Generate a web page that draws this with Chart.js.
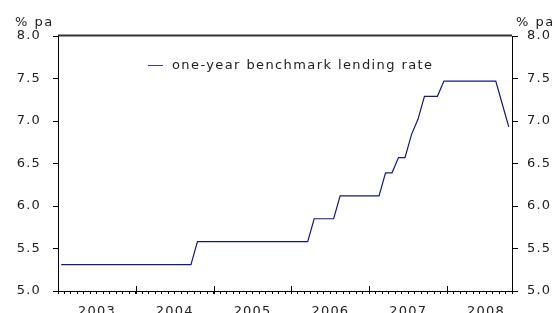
<!DOCTYPE html>
<html>
<head>
<meta charset="utf-8">
<script src="https://cdn.jsdelivr.net/npm/chart.js@4.4.1/dist/chart.umd.min.js"></script>
<style>
    html, body { margin: 0; padding: 0; background: #fff; }
    #wrap { position: relative; width: 555px; height: 313px; font-family: 'DejaVu Sans', Verdana, sans-serif; color: #222; }
    #chart { position: absolute; left: 0; top: 0; }
    .unit { position: absolute; top: 14px; font-size: 13px; line-height: 16px; letter-spacing: 1.5px; }
    #legend { position: absolute; left: 148px; top: 57px; font-size: 13px; line-height: 16px; letter-spacing: 1.4px; display: flex; align-items: center; }
    #legend .swatch { width: 15px; height: 0; border-top: 1px solid #3a3aa0; margin-right: 9px; }
</style>
</head>
<body>
<div id="wrap">
    <canvas id="chart" width="555" height="313"></canvas>
    <div class="unit" style="left:15px">% pa</div>
    <div class="unit" style="left:516px">% pa</div>
    <div id="legend"><span class="swatch"></span><span id="legendText"></span></div>
</div>
<script>
// monthly data, Jan 2003 .. Oct 2008
const seriesLabel = 'one-year benchmark lending rate';
const yearLabels = ['2003', '2004', '2005', '2006', '2007', '2008'];
const rates = [
    // 2003
    5.31, 5.31, 5.31, 5.31, 5.31, 5.31, 5.31, 5.31, 5.31, 5.31, 5.31, 5.31,
    // 2004
    5.31, 5.31, 5.31, 5.31, 5.31, 5.31, 5.31, 5.31, 5.31, 5.58, 5.58, 5.58,
    // 2005
    5.58, 5.58, 5.58, 5.58, 5.58, 5.58, 5.58, 5.58, 5.58, 5.58, 5.58, 5.58,
    // 2006
    5.58, 5.58, 5.58, 5.85, 5.85, 5.85, 5.85, 6.12, 6.12, 6.12, 6.12, 6.12,
    // 2007
    6.12, 6.12, 6.39, 6.39, 6.57, 6.57, 6.84, 7.02, 7.29, 7.29, 7.29, 7.47,
    // 2008
    7.47, 7.47, 7.47, 7.47, 7.47, 7.47, 7.47, 7.47, 7.20, 6.93,
];
const yTicks = [5.0, 5.5, 6.0, 6.5, 7.0, 7.5, 8.0];

const LINE_COLOR = '#161689';
const TEXT_COLOR = '#222';
const FONT = { family: "'DejaVu Sans', Verdana, sans-serif", size: 13 };
const LETTER_SPACING = '1.2px';
const MONTHS = 70;

document.getElementById('legendText').textContent = seriesLabel;

// the reference type is wider than DejaVu, so space the canvas text out a bit
const spacingPlugin = {
    id: 'spacing',
    beforeLayout(chart) { chart.ctx.letterSpacing = LETTER_SPACING; },
    beforeDraw(chart) { chart.ctx.letterSpacing = LETTER_SPACING; },
};

// top frame line and year ticks crossing the x axis
const framePlugin = {
    id: 'frame',
    afterDraw(chart) {
        const { ctx, chartArea } = chart;
        const x = chart.scales.x;
        ctx.save();
        ctx.strokeStyle = '#333';
        ctx.lineWidth = 2;
        ctx.beginPath();
        ctx.moveTo(chartArea.left, chartArea.top - 0.5);
        ctx.lineTo(chartArea.right, chartArea.top - 0.5);
        ctx.stroke();

        ctx.strokeStyle = '#000';
        ctx.lineWidth = 1;
        ctx.beginPath();
        for (let m = 12; m < MONTHS; m += 12) {
            const px = Math.round(x.getPixelForValue(m)) + 0.5;
            ctx.moveTo(px, chartArea.bottom - 5);
            ctx.lineTo(px, chartArea.bottom + 3);
        }
        ctx.stroke();
        ctx.restore();
    },
};

const yAxis = (position, width, tickLen, pad) => ({
    position,
    min: 5,
    max: 8,
    afterBuildTicks: (scale) => { scale.ticks = yTicks.map((value) => ({ value })); },
    ticks: { color: TEXT_COLOR, font: FONT, padding: pad, callback: (v) => Number(v).toFixed(1) },
    grid: { drawOnChartArea: false, tickLength: tickLen, color: '#000' },
    border: { color: '#000' },
    afterFit: (scale) => { scale.width = width; },
});

new Chart(document.getElementById('chart'), {
    type: 'line',
    data: {
        datasets: [{
            label: seriesLabel,
            data: rates.map((v, i) => ({ x: i + 0.5, y: v })),
            borderColor: LINE_COLOR,
            borderWidth: 1.2,
            pointRadius: 0,
            tension: 0,
            yAxisID: 'y',
        }],
    },
    options: {
        responsive: false,
        animation: false,
        layout: { padding: { top: 36 } },
        plugins: { legend: { display: false }, tooltip: { enabled: false } },
        scales: {
            x: {
                type: 'linear',
                min: 0,
                max: MONTHS,
                afterBuildTicks: (scale) => {
                    scale.ticks = Array.from({ length: MONTHS + 1 }, (_, i) => ({ value: i }));
                },
                ticks: {
                    autoSkip: false,
                    maxRotation: 0,
                    padding: 10,
                    color: TEXT_COLOR,
                    font: FONT,
                    callback: (v) => (v % 12 === 6 ? yearLabels[(v - 6) / 12] : ''),
                },
                grid: { drawOnChartArea: false, tickLength: 3, color: '#000' },
                border: { color: '#000' },
                afterFit: (scale) => { scale.height = 22; },
            },
            y: yAxis('left', 58, 5, 12),
            y2: yAxis('right', 43, 6, 9),
        },
    },
    plugins: [spacingPlugin, framePlugin],
});
</script>
</body>
</html>
